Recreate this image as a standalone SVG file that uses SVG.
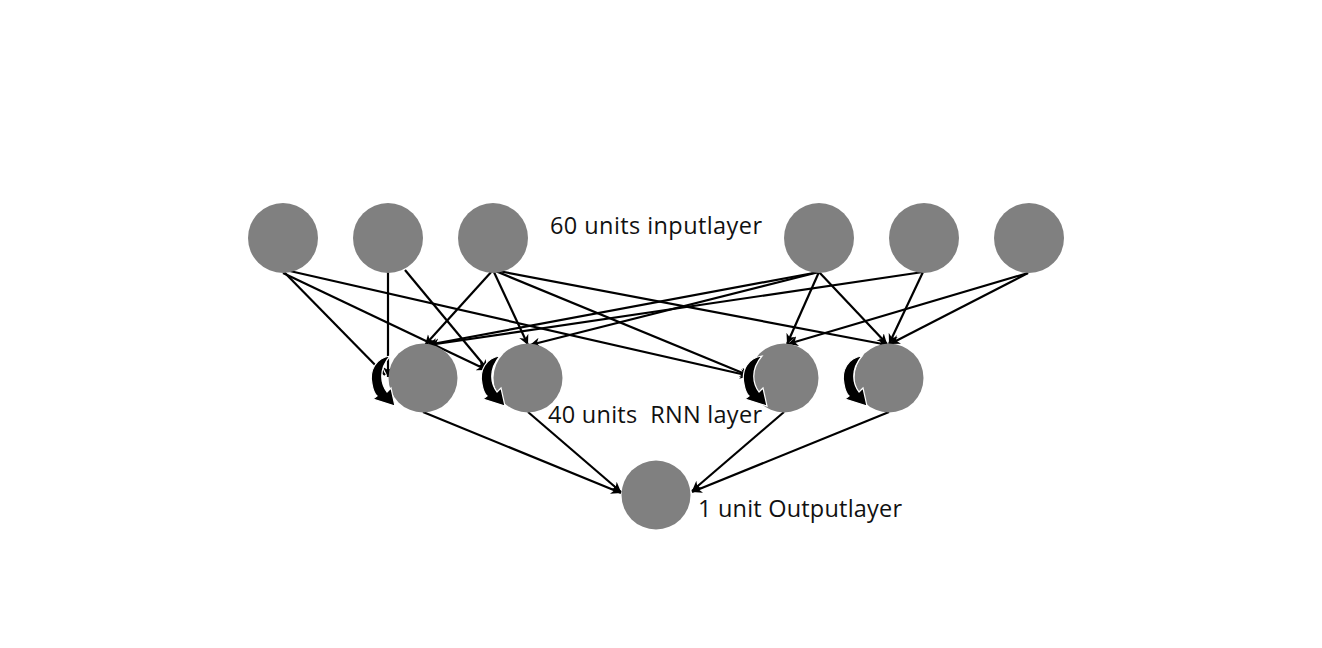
<svg xmlns="http://www.w3.org/2000/svg" width="1322" height="648" viewBox="0 0 1322 648">
<defs>
<style>
.node{fill:#808080}
.edge{stroke:#000;stroke-width:2.2;fill:none;marker-end:url(#ah)}
.lbl{font-family:"Open Sans","Liberation Sans",sans-serif;font-size:23.5px;fill:#111}
.loop{fill:#000;stroke:#fff;stroke-width:1.2}
</style>
<marker id="ah" markerUnits="userSpaceOnUse" markerWidth="12" markerHeight="12" viewBox="-10 -6 12 12" refX="0" refY="0" orient="auto">
<path d="M-10,-5 L0,0 L-10,5 L-7,0 Z" fill="#000"/>
</marker>
<path id="loop" d="M-22,-22 C-36,-20 -43,-8 -40,6 C-39,12 -37,16 -35,18 L-39,21 L-17,28 L-21,10 L-25,14 C-31,6 -34,-8 -22,-22 Z"/>
</defs>
<rect width="1322" height="648" fill="#fff"/>
<g id="connectors">
<line class="edge" x1="283" y1="271" x2="385" y2="375"/>
<line class="edge" x1="283" y1="273" x2="487" y2="370"/>
<line class="edge" x1="281" y1="269" x2="750" y2="376"/>
<line class="edge" x1="388" y1="270" x2="388" y2="377"/>
<line class="edge" x1="405" y1="270" x2="488" y2="370"/>
<line class="edge" x1="493" y1="270" x2="425" y2="345"/>
<line class="edge" x1="493" y1="270" x2="528" y2="345"/>
<line class="edge" x1="493" y1="270" x2="750" y2="376"/>
<line class="edge" x1="493" y1="270" x2="888" y2="345"/>
<line class="edge" x1="819" y1="272" x2="427" y2="345"/>
<line class="edge" x1="819" y1="272" x2="530" y2="345"/>
<line class="edge" x1="819" y1="272" x2="787" y2="344"/>
<line class="edge" x1="819" y1="272" x2="887" y2="344"/>
<line class="edge" x1="923" y1="272" x2="429" y2="345"/>
<line class="edge" x1="923" y1="272" x2="889" y2="344"/>
<line class="edge" x1="1028" y1="273" x2="788" y2="344"/>
<line class="edge" x1="1028" y1="273" x2="890" y2="344"/>
<line class="edge" x1="423" y1="412" x2="621" y2="493"/>
<line class="edge" x1="528" y1="412" x2="621" y2="492"/>
<line class="edge" x1="784" y1="412" x2="692" y2="491"/>
<line class="edge" x1="889" y1="412" x2="692" y2="492"/>
</g>
<g id="in1"><circle class="node" cx="283" cy="238" r="35"/></g>
<g id="in2"><circle class="node" cx="388" cy="238" r="35"/></g>
<g id="in3"><circle class="node" cx="493" cy="238" r="35"/></g>
<g id="in4"><circle class="node" cx="819" cy="238" r="35"/></g>
<g id="in5"><circle class="node" cx="924" cy="238" r="35"/></g>
<g id="in6"><circle class="node" cx="1029" cy="238" r="35"/></g>
<g id="rnn1"><circle class="node" cx="423" cy="378" r="34.5"/><use href="#loop" class="loop" transform="translate(412,378)"/></g>
<g id="rnn2"><circle class="node" cx="528" cy="378" r="34.5"/><use href="#loop" class="loop" transform="translate(522,378)"/></g>
<g id="rnn3"><circle class="node" cx="784" cy="378" r="34.5"/><use href="#loop" class="loop" transform="translate(784,378)"/></g>
<g id="rnn4"><circle class="node" cx="889" cy="378" r="34.5"/><use href="#loop" class="loop" transform="translate(884,378)"/></g>
<g id="out"><circle class="node" cx="656" cy="495" r="34.5"/></g>
<g id="labels">
<text class="lbl" x="550" y="234" textLength="212" lengthAdjust="spacing">60 units inputlayer</text>
<text class="lbl" x="548" y="423" textLength="214" lengthAdjust="spacing" xml:space="preserve">40 units  RNN layer</text>
<text class="lbl" x="698" y="517" textLength="204" lengthAdjust="spacing">1 unit Outputlayer</text>
</g>
</svg>
